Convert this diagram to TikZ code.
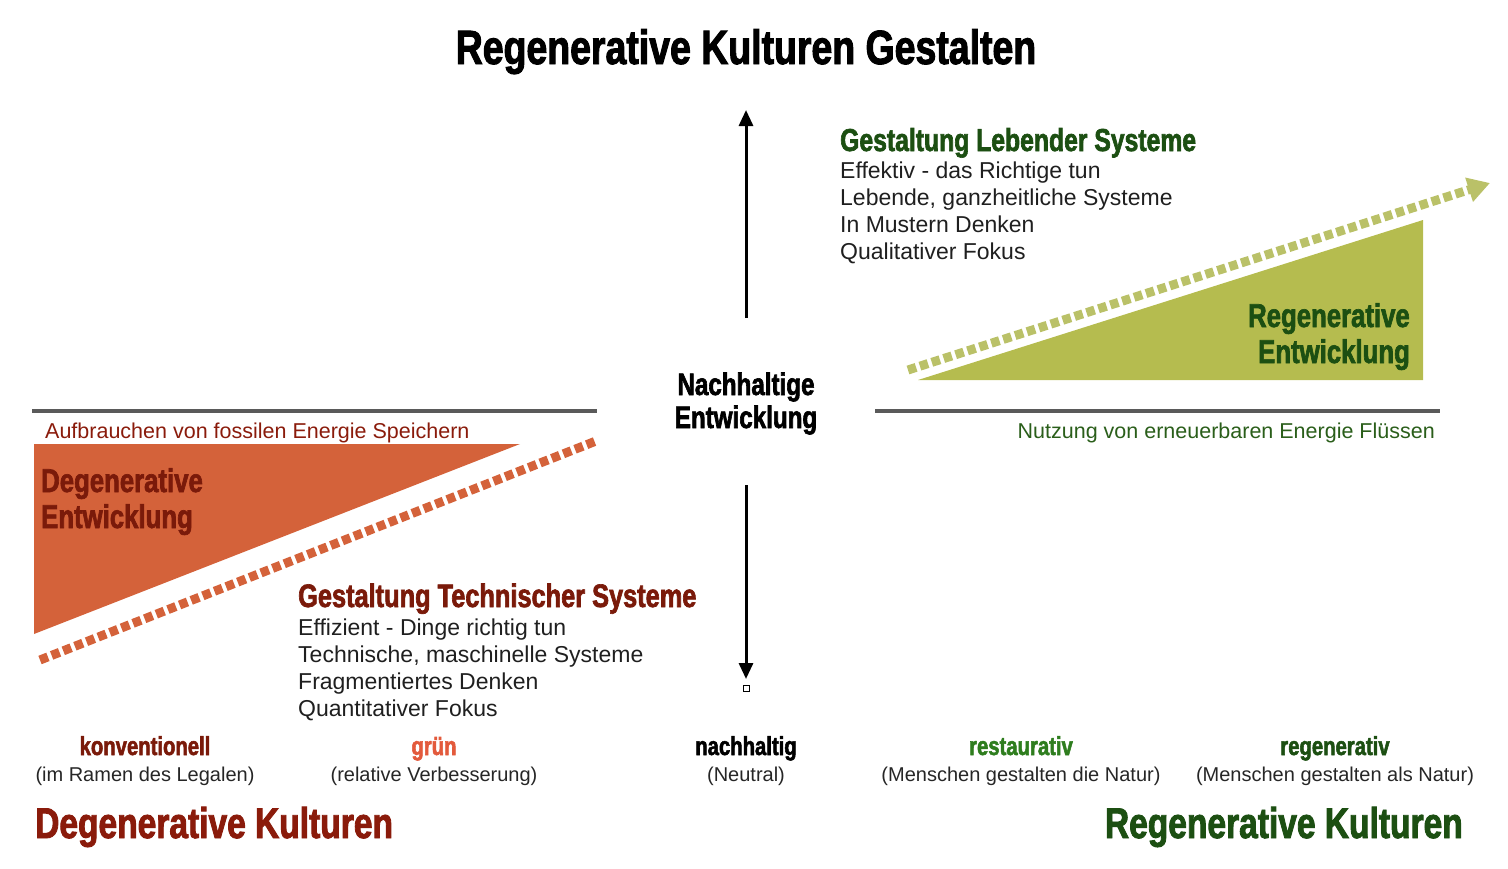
\documentclass[tikz,border=0pt]{standalone}
\usepackage{fontspec}
\setmainfont{Liberation Sans}
\newfontfamily\hf[FakeStretch=0.78,FakeBold=2,UprightFont=* Bold]{Liberation Sans}
\usetikzlibrary{arrows.meta}
\definecolor{dred}{HTML}{7A1A0A}
\definecolor{kred}{HTML}{8A1B0B}
\definecolor{orng}{HTML}{D4623A}
\definecolor{gruen}{HTML}{E35A3C}
\definecolor{gtri}{HTML}{B5BC4F}
\definecolor{gdash}{HTML}{BAC168}
\definecolor{dgreen}{HTML}{1C4F12}
\definecolor{mgreen}{HTML}{2A5E1A}
\definecolor{rgreen}{HTML}{2E7D1E}
\definecolor{lgray}{HTML}{5A5A5A}
\tikzset{
  x=1pt, y=-1pt,
  head/.style={inner sep=0pt, font=\hf\fontsize{#1}{#1}\selectfont},
  body/.style={inner sep=0pt, font=\fontsize{23}{23}\selectfont, anchor=base west, text=black!88},
  lab/.style={inner sep=0pt, font=\hf\fontsize{26}{26}\selectfont, anchor=base},
  par/.style={inner sep=0pt, font=\fontsize{20}{20}\selectfont, anchor=base, text=black!85},
  small/.style={inner sep=0pt, font=\fontsize{21.5}{21.5}\selectfont},
  axis/.style={line width=3pt, black, -{Triangle[length=16pt,width=14pt]}},
  sep/.style={line width=3.5pt, lgray},
  dashy/.style={line width=9pt, dash pattern=on 8.5pt off 4pt},
}
\begin{document}
\begin{tikzpicture}
\useasboundingbox (0,0) rectangle (1508,868);
% title
\node[head=48, anchor=base] (title) at (746,64) {Regenerative Kulturen Gestalten};
% separator lines
\coordinate (l1) at (32,411); \coordinate (l2) at (597,411);
\coordinate (r1) at (875,411); \coordinate (r2) at (1440,411);
\draw[sep] (l1) -- (l2);
\draw[sep] (r1) -- (r2);
% triangles
\coordinate (o1) at (34,444); \coordinate (o2) at (520,444); \coordinate (o3) at (34,634);
\fill[orng] (o1) -- (o2) -- (o3) -- cycle;
\coordinate (g1) at (918,380); \coordinate (g2) at (1423,380); \coordinate (g3) at (1423,220);
\fill[gtri] (g1) -- (g2) -- (g3) -- cycle;
% dashed lines
\coordinate (od1) at (40,660); \coordinate (od2) at (596,441);
\draw[dashy, orng] (od1) -- (od2);
\coordinate (gd1) at (908,370); \coordinate (gd2) at (1490,183);
\draw[dashy, gdash, -{Triangle[length=22pt,width=24pt]}] (gd1) -- (gd2);
% axis arrows
\coordinate (a1) at (746,318); \coordinate (a2) at (746,110);
\draw[axis] (a1) -- (a2);
\coordinate (b1) at (746,485); \coordinate (b2) at (746,679);
\draw[axis] (b1) -- (b2);
\node[draw=black, line width=1pt, minimum size=6pt, inner sep=0pt] (sq) at (746,688) {};
% centre
\node[head=31, anchor=base] (nh) at (746,395) {Nachhaltige};
\node[head=31, anchor=base] (ne) at (746,428) {Entwicklung};
% under-line texts
\node[small, anchor=base west, text=kred] (auf) at (45,438) {Aufbrauchen von fossilen Energie Speichern};
\node[small, anchor=base east, text=mgreen] (nutz) at (1435,438) {Nutzung von erneuerbaren Energie Flüssen};
% triangle labels
\node[head=33, anchor=base west, text=dred] (dg1) at (41,492) {Degenerative};
\node[head=33, anchor=base west, text=dred] (dg2) at (41,528) {Entwicklung};
\node[head=33, anchor=base east, text=dgreen] (rg1) at (1410,327) {Regenerative};
\node[head=33, anchor=base east, text=dgreen] (rg2) at (1410,363) {Entwicklung};
% Lebende Systeme
\node[head=31.7, anchor=base west, text=dgreen] (ls) at (840,151) {Gestaltung Lebender Systeme};
\node[body] (ls1) at (840,178) {Effektiv - das Richtige tun};
\node[body] (ls2) at (840,205) {Lebende, ganzheitliche Systeme};
\node[body] (ls3) at (840,232) {In Mustern Denken};
\node[body] (ls4) at (840,259) {Qualitativer Fokus};
% Technische Systeme
\node[head=32.5, anchor=base west, text=dred] (ts) at (298,607) {Gestaltung Technischer Systeme};
\node[body] (ts1) at (298,635) {Effizient - Dinge richtig tun};
\node[body] (ts2) at (298,662) {Technische, maschinelle Systeme};
\node[body] (ts3) at (298,689) {Fragmentiertes Denken};
\node[body] (ts4) at (298,716) {Quantitativer Fokus};
% bottom scale
\node[lab, text=dred] (k1) at (145,755) {konventionell};
\node[par] (k2) at (145,781) {(im Ramen des Legalen)};
\node[lab, text=gruen] (gr1) at (434,755) {grün};
\node[par] (gr2) at (434,781) {(relative Verbesserung)};
\node[lab, text=black] (n1) at (746,755) {nachhaltig};
\node[par] (n2) at (746,781) {(Neutral)};
\node[lab, text=rgreen] (re1) at (1021,755) {restaurativ};
\node[par] (re2) at (1021,781) {(Menschen gestalten die Natur)};
\node[lab, text=dgreen] (rv1) at (1335,755) {regenerativ};
\node[par] (rv2) at (1335,781) {(Menschen gestalten als Natur)};
% bottom headings
\node[head=43, anchor=base west, text=kred] (dk) at (35,838) {Degenerative Kulturen};
\node[head=43, anchor=base east, text=dgreen] (rk) at (1463,838) {Regenerative Kulturen};
\end{tikzpicture}
\end{document}
